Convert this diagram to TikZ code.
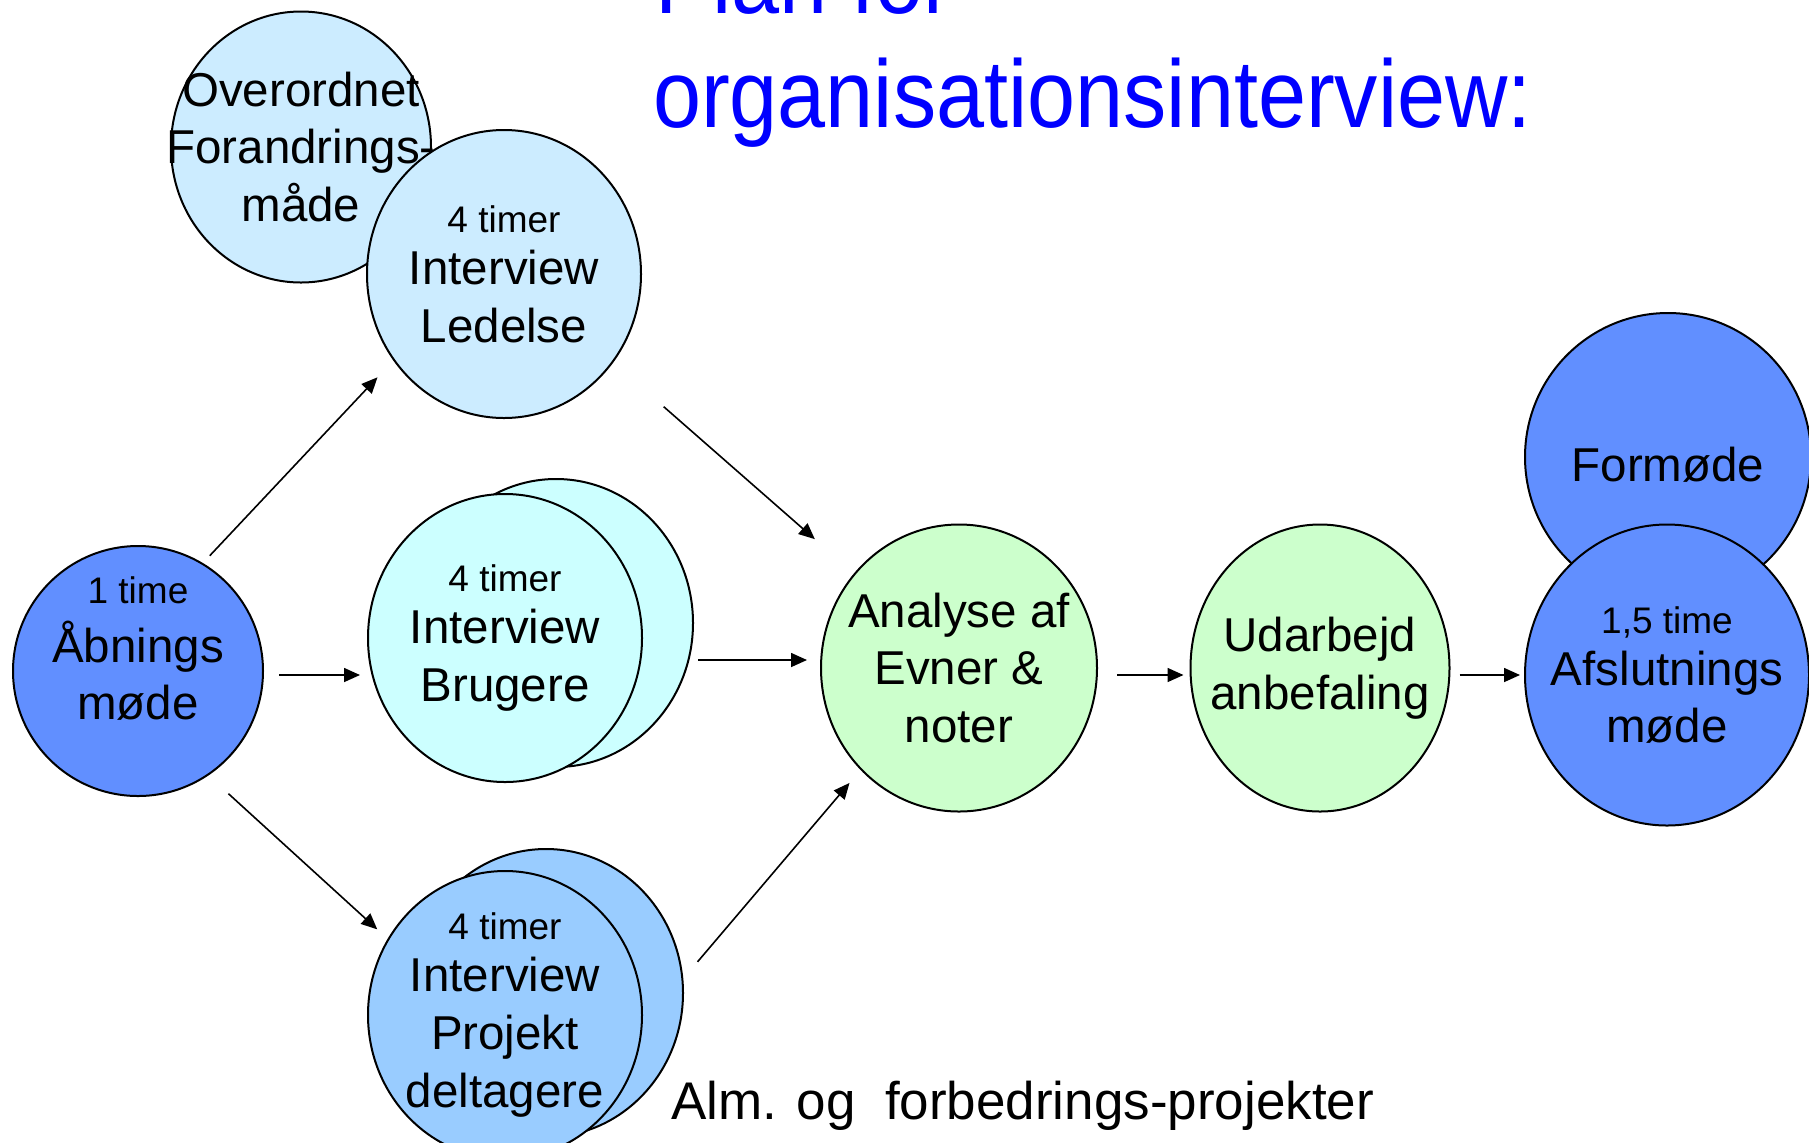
\documentclass[tikz,border=0pt]{standalone}
\usepackage{fontspec}
\setmainfont{Liberation Sans}
\newfontfamily\titlefont[FakeStretch=0.9]{Liberation Sans}
\usetikzlibrary{arrows.meta,shapes.geometric}

\definecolor{paleblue}{RGB}{204,236,255}
\definecolor{palecyan}{RGB}{204,255,255}
\definecolor{skyblue}{RGB}{153,204,255}
\definecolor{meetblue}{RGB}{97,143,255}
\definecolor{palegreen}{RGB}{204,255,204}
\newcommand{\hrs}[2][-2.9pt]{{\fontsize{18.5}{22}\selectfont #2}\\[#1]}

\begin{document}
\begin{tikzpicture}[->,>={Triangle[length=8pt,width=7pt]},x=0.5pt,y=-0.5pt,line width=1pt,
  phase node/.style={ellipse,draw,align=center,inner sep=-40pt,minimum width=137pt,
    minimum height=144pt,font=\fontsize{23.75}{28.9}\selectfont},
  head text/.style={text=blue,inner sep=0pt,anchor=base west,font=\titlefont\fontsize{48}{58}\selectfont}]

 \useasboundingbox (0,0) rectangle (1809,1142);
 \clip (0,0) rectangle (1809,1142);

 \node[phase node,fill=paleblue,minimum width=130pt,minimum height=135.5pt] (ovr) at (301,147) {Overordnet\\Forandrings-\\måde};
 \node[phase node,fill=paleblue] (led) at (504,274) {\hrs{4 timer}Interview\\Ledelse};
 \node[phase node,fill=meetblue,minimum width=125pt,minimum height=125pt] (abn) at (138,671) {\hrs[0.5pt]{1 time}Åbnings\\møde\\[-6pt]\mbox{}};
 \node[phase node,fill=palecyan] (bruB) at (556,623) {};
 \node[phase node,fill=palecyan] (bru) at (505,638) {\hrs{4 timer}Interview\\Brugere};
 \node[phase node,fill=skyblue] (prjB) at (546,993) {};
 \node[phase node,fill=skyblue] (prj) at (505,1015) {\hrs{4 timer}Interview\\Projekt\\deltagere};
 \node[phase node,fill=palegreen,minimum width=138pt,minimum height=143.5pt] (ana) at (959,668) {Analyse af\\Evner \&\\noter};
 \node[phase node,fill=palegreen,minimum width=129.5pt,minimum height=143.5pt] (udb) at (1320,668) {Udarbejd\\anbefaling};
 \node[phase node,fill=meetblue,minimum width=143pt] (frm) at (1668,457) {\mbox{}\\[-4pt]Formøde};
 \node[phase node,fill=meetblue,minimum width=142pt,minimum height=150.5pt] (afs) at (1667,675) {\hrs{1,5 time}Afslutnings\\møde};

 \node[head text] (plan) at (654,13) {Plan for};
 \node[head text] (ttl) at (652,127) {organisationsinterview:};
 \node[anchor=base west,inner sep=0pt,font=\fontsize{26.5}{32}\selectfont] (alm) at (670,1119) {Alm. og\ \ forbedrings-projekter};

 \path[line width=0.8pt]
    (abn.59) edge[shorten <=5pt,shorten >=11.5pt] (led.218)
    ([yshift=-2pt]abn.east) edge[shorten <=7.5pt,shorten >=3.5pt] ([yshift=-2pt]abn.east -| bru.west)
    (abn.304) edge[shorten <=13.5pt,shorten >=7pt] (prj.147)
    (led.321) edge[shorten <=33.5pt,shorten >=26pt] (ana.138)
    ([yshift=4pt]ana.west -| bruB.east) edge[shorten <=2pt,shorten >=6.5pt] ([yshift=4pt]ana.west)
    (prjB.6) edge[shorten <=11pt,shorten >=8.5pt] (ana.226)
    ([yshift=-3.5pt]ana.east) edge[shorten <=9.5pt,shorten >=3pt] ([yshift=-3.5pt]udb.west)
    ([yshift=-3.5pt]udb.east) edge[shorten <=4.5pt,shorten >=2pt] (afs.west);

\end{tikzpicture}
\end{document}
